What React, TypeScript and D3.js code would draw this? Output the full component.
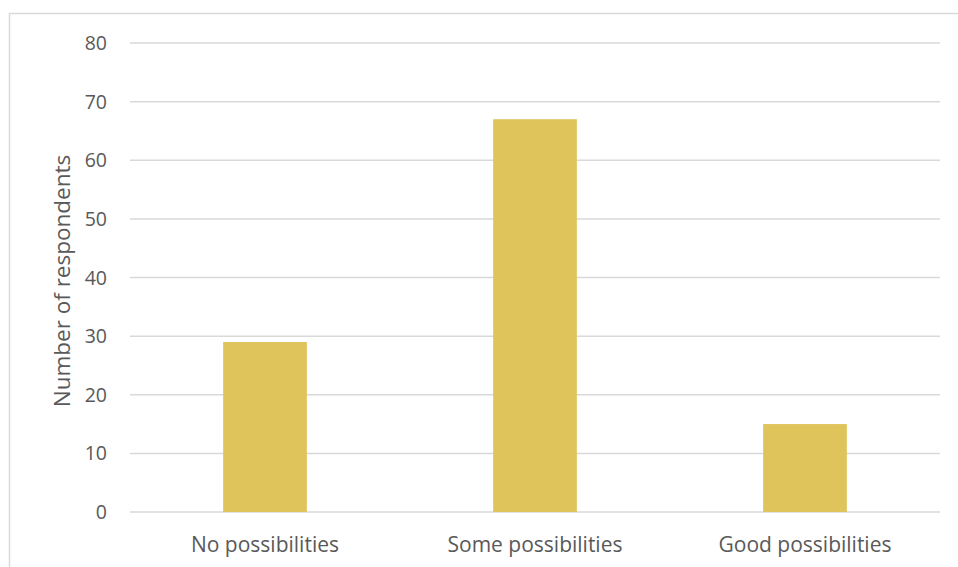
import React, { useRef, useEffect } from 'react';
import * as d3 from 'd3';

// chart data
const categories = ['No possibilities', 'Some possibilities', 'Good possibilities'];
const respondents = [29, 67, 15];
const yTicks = [0, 10, 20, 30, 40, 50, 60, 70, 80];

function App() {
  const svgRef = useRef<SVGSVGElement | null>(null);

  useEffect(() => {
    const width = 958;
    const height = 567;
    const font = '"Open Sans", sans-serif';

    const svg = d3.select(svgRef.current)
      .attr('width', width)
      .attr('height', height);
    svg.selectAll('*').remove();

    // outer chart frame (right and bottom edges fall outside the picture)
    svg.append('rect')
      .attr('x', 9.5)
      .attr('y', 13.5)
      .attr('width', 960)
      .attr('height', 570)
      .attr('fill', '#fff')
      .attr('stroke', '#d9d9d9')
      .attr('stroke-width', 1.5);

    const xScale = d3.scaleBand<string>()
      .domain(categories)
      .range([130, 940])
      .paddingInner(0.69)
      .paddingOuter(0.345);

    const yScale = d3.scaleLinear()
      .domain([0, 80])
      .range([512, 43]);

    // gridlines
    svg.append('g')
      .selectAll('line')
      .data(yTicks)
      .enter()
      .append('line')
      .attr('x1', 130)
      .attr('x2', 940)
      .attr('y1', d => yScale(d))
      .attr('y2', d => yScale(d))
      .attr('stroke', '#d9d9d9')
      .attr('stroke-width', 1.5);

    // bars
    svg.append('g')
      .selectAll('rect')
      .data(respondents)
      .enter()
      .append('rect')
      .attr('x', (d, i) => xScale(categories[i]) as number)
      .attr('y', d => yScale(d))
      .attr('width', xScale.bandwidth())
      .attr('height', d => yScale(0) - yScale(d))
      .attr('fill', '#dfc45b');

    // y tick labels
    svg.append('g')
      .selectAll('text')
      .data(yTicks)
      .enter()
      .append('text')
      .attr('x', 107)
      .attr('y', d => yScale(d))
      .attr('dy', '0.36em')
      .attr('text-anchor', 'end')
      .attr('font-family', font)
      .attr('font-size', 19.5)
      .attr('fill', '#595959')
      .text(d => d);

    // category labels
    svg.append('g')
      .selectAll('text')
      .data(categories)
      .enter()
      .append('text')
      .attr('x', d => (xScale(d) as number) + xScale.bandwidth() / 2)
      .attr('y', 552)
      .attr('text-anchor', 'middle')
      .attr('font-family', font)
      .attr('font-size', 21)
      .attr('fill', '#595959')
      .text(d => d);

    // axis title
    svg.append('text')
      .attr('transform', 'translate(70, 281) rotate(-90)')
      .attr('text-anchor', 'middle')
      .attr('font-family', font)
      .attr('font-size', 22.5)
      .attr('fill', '#595959')
      .text('Number of respondents');
  }, []);

  return (
    <svg ref={svgRef} style={{ position: 'absolute', left: 0, top: 0, background: '#fff' }}></svg>
  );
}

export default App;
